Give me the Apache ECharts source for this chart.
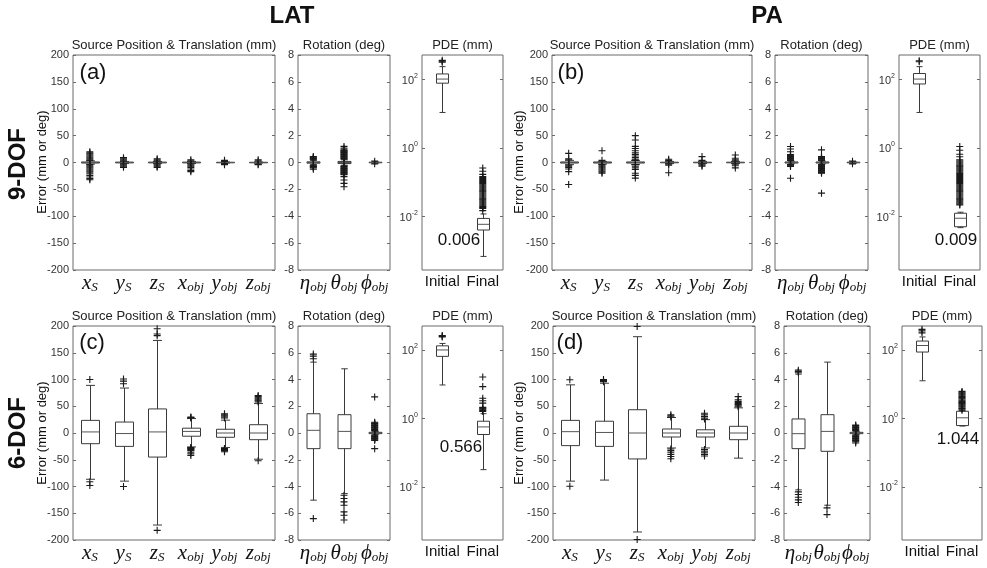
<!DOCTYPE html>
<html>
<head>
<meta charset="utf-8">
<script src="https://cdn.jsdelivr.net/npm/echarts@6/dist/echarts.min.js"></script>
<style>
  html, body { margin: 0; padding: 0; background: #fff; }
  #chart { width: 987px; height: 568px; }
</style>
</head>
<body>
<div id="chart"></div>
<script>
// categories
const transCats = ['xS', 'yS', 'zS', 'xobj', 'yobj', 'zobj'];
const rotCats = ['eta', 'theta', 'phi'];
const pdeCats = ['Initial', 'Final'];

// boxes: [low whisker, q1, median, q3, high whisker], outliers: one list per category
// (a) LAT 9-DOF
const latTrans9Box = [[-3, -1, 0, 1, 3], [-2, -0.7, 0, 0.7, 2], [-2, -0.7, 0, 0.7, 2], [-2, -0.7, 0, 0.7, 2], [-1, -0.4, 0, 0.4, 1], [-1, -0.4, 0, 0.4, 1]];
const latTrans9Out = [
  [20, 18, 16, 14, 12, 10, 8, 6, 4, -4, -6, -8, -10, -12, -14, -16, -18, -21, -24, -27, -30, -32],
  [9, 7, 5, 3, -3, -5, -7, -9],
  [7, 5, 3, -3, -5, -7, -9],
  [5, 3, -3, -5, -7, -9, -12, -15, -17],
  [4, 2, -2, -4],
  [5, 3, -3, -4]
];
const latRot9Box = [[-0.15, -0.05, 0, 0.05, 0.15], [-0.2, -0.08, 0, 0.08, 0.2], [-0.05, -0.02, 0, 0.02, 0.05]];
const latRot9Out = [
  [0.45, 0.4, 0.35, 0.3, 0.25, 0.2, -0.2, -0.25, -0.3, -0.35, -0.4, -0.5],
  [1.2, 1.07, 0.95, 0.9, 0.85, 0.8, 0.75, 0.7, 0.65, 0.6, 0.55, 0.5, 0.45, 0.4, 0.35, 0.3, 0.25,
    -0.25, -0.3, -0.35, -0.4, -0.45, -0.5, -0.55, -0.6, -0.65, -0.7, -0.75, -0.8, -0.85, -0.9, -1.05, -1.3, -1.55, -1.8],
  [0.1, -0.1]
];
const latPde9Box = [[10.7, 76, 100, 141, 230], [0.0007, 0.0041, 0.006, 0.0089, 0.012]];
const latPde9Out = [
  [310, 330, 350],
  [0.26, 0.21, 0.17, 0.148, 0.138, 0.129, 0.12, 0.112, 0.105, 0.0977, 0.0912, 0.0851, 0.0794, 0.0741, 0.0692,
    0.0646, 0.0603, 0.0562, 0.0525, 0.049, 0.0457, 0.0427, 0.0398, 0.0372, 0.0347, 0.0324, 0.0302, 0.0282,
    0.0263, 0.0245, 0.0229, 0.0214, 0.02, 0.0186, 0.0174, 0.015]
];

// (b) PA 9-DOF
const paTrans9Box = [[-4, -1, 0, 1, 4], [-3, -1, 0, 1, 2], [-4, -1, 0, 1, 4], [-2, -0.5, 0, 0.5, 2], [-2, -0.5, 0, 0.5, 2], [-2, -0.5, 0, 0.5, 2]];
const paTrans9Out = [
  [17, 7, 5, -5, -7, -9, -12, -17, -41],
  [22, 4, -4, -6, -8, -10, -12, -14, -16, -18, -20],
  [50, 42, 30, 26, 22, 18, 15, 12, 9, 6, 4, -4, -7, -10, -13, -20, -24, -29],
  [6, 4, -3, -5, -19],
  [11, 4, -3, -5, -7],
  [14, 8, 5, 3, -3, -6, -10]
];
const paRot9Box = [[-0.1, -0.04, 0, 0.04, 0.1], [-0.1, -0.04, 0, 0.04, 0.1], [-0.05, -0.02, 0, 0.02, 0.05]];
const paRot9Out = [
  [1.19, 1.0, 0.8, 0.6, 0.55, 0.5, 0.45, 0.4, 0.35, 0.3, 0.25, 0.2, 0.15, -0.15, -0.2, -0.25, -0.3, -1.17],
  [0.94, 0.45, 0.4, 0.35, 0.3, 0.25, 0.2, 0.15, -0.15, -0.2, -0.25, -0.3, -0.35, -0.4, -0.45, -0.5, -0.55, -0.6, -0.65, -0.7, -0.75, -0.8, -2.28],
  [0.1, -0.1]
];
const paPde9Box = [[10.7, 72, 100, 145, 230], [0.0048, 0.0051, 0.009, 0.0126, 0.0135]];
const paPde9Out = [
  [320, 340],
  [1.1, 0.85, 0.65, 0.55, 0.447, 0.417, 0.389, 0.363, 0.339, 0.316, 0.295, 0.275, 0.257, 0.24, 0.224, 0.209,
    0.195, 0.182, 0.17, 0.158, 0.148, 0.138, 0.129, 0.12, 0.112, 0.105, 0.0977, 0.0912, 0.0851, 0.0794, 0.0741,
    0.0692, 0.0646, 0.0603, 0.0562, 0.0525, 0.049, 0.0457, 0.0427, 0.0398, 0.0372, 0.0347, 0.0324, 0.0302,
    0.0282, 0.0263, 0.0245, 0.0229, 0.0219]
];

// (c) LAT 6-DOF
const latTrans6Box = [[-86.5, -20, 2, 23.6, 89], [-90, -25, -1, 20.5, 84], [-172, -45, 2, 45, 173], [-26, -6, 3, 9, 27], [-27, -8, 0, 7, 24], [-49, -12.5, 0, 15.5, 55]];
const latTrans6Out = [
  [100, -91, -98],
  [101, 97, 92, -100],
  [195, 185, 182, -182],
  [30, 29, 28, -27, -28, -29, -30, -31, -33, -36, -39, -42],
  [36, 34, 32, 30, 28, -29, -30, -31, -33, -35],
  [70, 68, 66, 64, 62, 60, 58, -52]
];
const latRot6Box = [[-5.02, -1.17, 0.2, 1.44, 5.3], [-4.53, -1.17, 0.12, 1.37, 4.8], [-0.1, -0.05, 0, 0.05, 0.1]];
const latRot6Out = [
  [5.9, 5.75, 5.55, -6.4],
  [-4.65, -4.9, -5.15, -5.4, -5.9, -6.15, -6.5],
  [2.7, 0.8, 0.75, 0.7, 0.65, 0.6, 0.55, 0.5, 0.45, 0.4, 0.35, 0.3, 0.25, 0.2, 0.15,
    -0.15, -0.2, -0.25, -0.3, -0.35, -0.4, -0.45, -0.5, -0.55, -1.17]
];
const latPde6Box = [[9.5, 65, 100, 132, 155], [0.032, 0.34, 0.566, 0.83, 1.38]];
const latPde6Out = [
  [240, 250, 265],
  [16.2, 8.5, 3.9, 3.3, 2.8, 2.1, 2.0, 1.9, 1.8, 1.7, 1.6]
];

// (d) PA 6-DOF
const paTrans6Box = [[-90, -23.6, 2.5, 23.6, 90], [-88, -25, 1, 22, 93], [-185, -48.5, 0, 43.5, 180], [-28, -7.5, 0, 7.5, 29], [-28, -7.5, 0, 6, 25], [-47, -12.5, 0, 12.5, 47]];
const paTrans6Out = [
  [99.5, -99.5],
  [96, 98, 100],
  [199, -199],
  [34, 32, 30, -30, -33, -36, -40, -44, -48],
  [37, 34, 31, 28, 26, -31, -34, -37, -40, -43],
  [68, 62, 59, 57, 55, 53, 51, 49]
];
const paRot6Box = [[-4.25, -1.17, -0.05, 1.05, 4.4], [-5.4, -1.37, 0.12, 1.37, 5.3], [-0.1, -0.05, 0, 0.05, 0.1]];
const paRot6Out = [
  [4.7, 4.6, 4.5, -4.4, -4.6, -4.8, -5.0, -5.2],
  [-5.6, -6.1],
  [0.6, 0.55, 0.5, 0.45, 0.4, 0.35, 0.3, 0.25, 0.2, 0.15, -0.15, -0.2, -0.25, -0.3, -0.35, -0.4, -0.45, -0.5, -0.55, -0.6, -0.65, -0.75]
];
const paPde6Box = [[12.6, 87, 135, 182, 240], [0.6, 0.62, 1.044, 1.62, 1.65]];
const paPde6Out = [
  [316, 360, 400],
  [6.17, 5.8, 5.5, 5.2, 4.9, 4.6, 4.37, 4.1, 3.89, 3.7, 3.47, 3.3, 3.09, 2.9, 2.75, 2.6, 2.45, 2.3, 2.19, 2.05, 1.95, 1.85, 1.74]
];

// annotated medians of the final PDE
const pdeMedianText = ['0.006', '0.009', '0.566', '1.044'];

const chart = echarts.init(document.getElementById('chart'));

const catLabel = {
  xS: '{m|x}{s|S}', yS: '{m|y}{s|S}', zS: '{m|z}{s|S}',
  xobj: '{m|x}{s|obj}', yobj: '{m|y}{s|obj}', zobj: '{m|z}{s|obj}',
  eta: '{g|η}{s|obj}', theta: '{g|θ}{s|obj}', phi: '{g|ϕ}{s|obj}',
  Initial: 'Initial', Final: 'Final'
};

const SANS = '"Liberation Sans", Arial, Helvetica, sans-serif';
const SERIF = '"Liberation Serif", "Times New Roman", serif';

const kinds = {
  trans: { cats: transCats, boxW: 18, type: 'value', min: -200, max: 200, interval: 50 },
  rot: { cats: rotCats, boxW: 13, type: 'value', min: -8, max: 8, interval: 2 },
  pde: { cats: pdeCats, boxW: 12, type: 'log', min: 0.000282, max: 501 }
};

const panels = [
  { rect: [73, 55, 202, 215], kind: 'trans', box: latTrans9Box, out: latTrans9Out, title: 'Source Position & Translation (mm)' },
  { rect: [298, 55, 92, 215], kind: 'rot', box: latRot9Box, out: latRot9Out, title: 'Rotation (deg)' },
  { rect: [422, 55, 81, 215], kind: 'pde', box: latPde9Box, out: latPde9Out, title: 'PDE (mm)' },
  { rect: [552, 55, 200, 215], kind: 'trans', box: paTrans9Box, out: paTrans9Out, title: 'Source Position & Translation (mm)' },
  { rect: [775, 55, 93, 215], kind: 'rot', box: paRot9Box, out: paRot9Out, title: 'Rotation (deg)' },
  { rect: [899, 55, 81, 215], kind: 'pde', box: paPde9Box, out: paPde9Out, title: 'PDE (mm)' },
  { rect: [73, 326, 202, 214], kind: 'trans', box: latTrans6Box, out: latTrans6Out, title: 'Source Position & Translation (mm)' },
  { rect: [298, 326, 92, 214], kind: 'rot', box: latRot6Box, out: latRot6Out, title: 'Rotation (deg)' },
  { rect: [422, 326, 81, 214], kind: 'pde', box: latPde6Box, out: latPde6Out, title: 'PDE (mm)' },
  { rect: [553, 326, 202, 214], kind: 'trans', box: paTrans6Box, out: paTrans6Out, title: 'Source Position & Translation (mm)' },
  { rect: [784, 326, 86, 214], kind: 'rot', box: paRot6Box, out: paRot6Out, title: 'Rotation (deg)' },
  { rect: [902, 326, 80, 214], kind: 'pde', box: paPde6Box, out: paPde6Out, title: 'PDE (mm)' }
];

function boxRenderer (boxW) {
  return function (params, api) {
    const x = api.value(0);
    const lo = api.coord([x, api.value(1)]);
    const q1 = api.coord([x, api.value(2)]);
    const md = api.coord([x, api.value(3)]);
    const q3 = api.coord([x, api.value(4)]);
    const hi = api.coord([x, api.value(5)]);
    const cx = Math.round(lo[0]) + 0.5;
    const hw = boxW / 2;
    const cw = boxW / 4;
    const st = { stroke: '#3a3a3a', lineWidth: 1, fill: null };
    return {
      type: 'group',
      children: [
        { type: 'line', shape: { x1: cx, y1: hi[1], x2: cx, y2: q3[1] }, style: st },
        { type: 'line', shape: { x1: cx, y1: q1[1], x2: cx, y2: lo[1] }, style: st },
        { type: 'line', shape: { x1: cx - cw, y1: hi[1], x2: cx + cw, y2: hi[1] }, style: st },
        { type: 'line', shape: { x1: cx - cw, y1: lo[1], x2: cx + cw, y2: lo[1] }, style: st },
        { type: 'rect', shape: { x: cx - hw, y: q3[1], width: boxW, height: Math.max(q1[1] - q3[1], 0.5) }, style: { stroke: '#3a3a3a', lineWidth: 1, fill: 'rgba(0,0,0,0)' } },
        { type: 'line', shape: { x1: cx - hw, y1: md[1], x2: cx + hw, y2: md[1] }, style: { stroke: '#555', lineWidth: 1 } }
      ]
    };
  };
}

const plusSymbol = 'path://M0,5L10,5M5,0L5,10';

function pow10Label (value) {
  const e = Math.round(Math.log10(value));
  return '{b|10}{p|' + e + '}';
}

const grid = [];
const xAxis = [];
const yAxis = [];
const series = [];
const graphic = [];

panels.forEach(function (p, i) {
  const k = kinds[p.kind];
  grid.push({
    left: p.rect[0], top: p.rect[1], width: p.rect[2], height: p.rect[3],
    show: true, borderColor: '#6b6b6b', borderWidth: 1, backgroundColor: '#fff'
  });
  xAxis.push({
    gridIndex: i,
    type: 'category',
    data: k.cats,
    boundaryGap: true,
    axisLine: { show: false },
    axisTick: { show: false },
    splitLine: { show: false },
    axisLabel: {
      interval: 0,
      hideOverlap: false,
      margin: 4,
      color: '#111',
      fontFamily: SANS,
      fontSize: 15,
      formatter: function (v) { return catLabel[v]; },
      rich: {
        m: { fontFamily: SERIF, fontStyle: 'italic', fontSize: 21, lineHeight: 20, verticalAlign: 'bottom', color: '#111' },
        g: { fontFamily: SERIF, fontStyle: 'italic', fontSize: 21, lineHeight: 20, verticalAlign: 'bottom', color: '#111' },
        s: { fontFamily: SERIF, fontStyle: 'italic', fontSize: 13, lineHeight: 6, verticalAlign: 'bottom', color: '#111' }
      }
    }
  });
  const common = {
    gridIndex: i,
    type: k.type,
    min: k.min,
    max: k.max,
    axisLine: { show: false },
    splitLine: { show: false }
  };
  if (k.type === 'log') {
    common.logBase = 10;
  } else {
    common.interval = k.interval;
  }
  const left = Object.assign({}, common, {
    position: 'left',
    axisTick: { show: true, inside: true, length: 3, lineStyle: { color: '#6b6b6b' } },
    axisLabel: { show: true, margin: 4, color: '#333', fontFamily: SANS, fontSize: 11 }
  });
  const right = Object.assign({}, common, {
    position: 'right',
    axisTick: { show: true, inside: true, length: 3, lineStyle: { color: '#6b6b6b' } },
    axisLabel: { show: false }
  });
  if (k.type === 'log') {
    left.axisTick.customValues = [0.01, 1, 100];
    right.axisTick.customValues = [0.01, 1, 100];
    left.axisLabel.customValues = [0.01, 1, 100];
    left.axisLabel.formatter = pow10Label;
    left.axisLabel.rich = {
      b: { fontFamily: SANS, fontSize: 11, lineHeight: 14, verticalAlign: 'bottom', color: '#333' },
      p: { fontFamily: SANS, fontSize: 7, lineHeight: 8, verticalAlign: 'top', color: '#333' }
    };
  }
  yAxis.push(left, right);

  series.push({
    type: 'custom',
    xAxisIndex: i,
    yAxisIndex: 2 * i,
    renderItem: boxRenderer(k.boxW),
    encode: { x: 0, y: [1, 2, 3, 4, 5] },
    data: p.box.map(function (b, c) { return [c].concat(b); }),
    silent: true,
    z: 2
  });
  const pts = [];
  p.out.forEach(function (vals, c) {
    vals.forEach(function (v) { pts.push([c, v]); });
  });
  series.push({
    type: 'scatter',
    xAxisIndex: i,
    yAxisIndex: 2 * i,
    data: pts,
    symbol: plusSymbol,
    symbolSize: 7,
    itemStyle: { color: 'none', borderColor: '#1a1a1a', borderWidth: 1.1, opacity: 1 },
    silent: true,
    z: 3
  });

  graphic.push({
    type: 'text',
    x: p.rect[0] + p.rect[2] / 2,
    y: p.rect[1] - 10,
    style: { text: p.title, font: '13px ' + SANS, fill: '#222', textAlign: 'center', textVerticalAlign: 'middle' }
  });
});

function txt (text, x, y, font, rot) {
  return {
    type: 'text', x: x, y: y, rotation: rot || 0,
    style: { text: text, font: font, fill: '#111', textAlign: 'center', textVerticalAlign: 'middle' }
  };
}

graphic.push(txt('LAT', 292, 16, 'bold 24px ' + SANS));
graphic.push(txt('PA', 767, 16, 'bold 24px ' + SANS));
graphic.push(txt('9-DOF', 18, 164, 'bold 24px ' + SANS, Math.PI / 2));
graphic.push(txt('6-DOF', 18, 433, 'bold 24px ' + SANS, Math.PI / 2));
[[42, 162], [519, 162], [42, 433], [519, 433]].forEach(function (pt) {
  graphic.push(txt('Error (mm or deg)', pt[0], pt[1], '13px ' + SANS, Math.PI / 2));
});
graphic.push(txt('(a)', 93, 73, '22px ' + SANS));
graphic.push(txt('(b)', 571, 73, '22px ' + SANS));
graphic.push(txt('(c)', 92, 343, '22px ' + SANS));
graphic.push(txt('(d)', 570, 343, '22px ' + SANS));
graphic.push(txt(pdeMedianText[0], 459, 240, '17px ' + SANS));
graphic.push(txt(pdeMedianText[1], 956, 240, '17px ' + SANS));
graphic.push(txt(pdeMedianText[2], 461, 447, '17px ' + SANS));
graphic.push(txt(pdeMedianText[3], 958, 439, '17px ' + SANS));

chart.setOption({
  animation: false,
  backgroundColor: '#fff',
  grid: grid,
  xAxis: xAxis,
  yAxis: yAxis,
  series: series,
  graphic: graphic
});
</script>
</body>
</html>
